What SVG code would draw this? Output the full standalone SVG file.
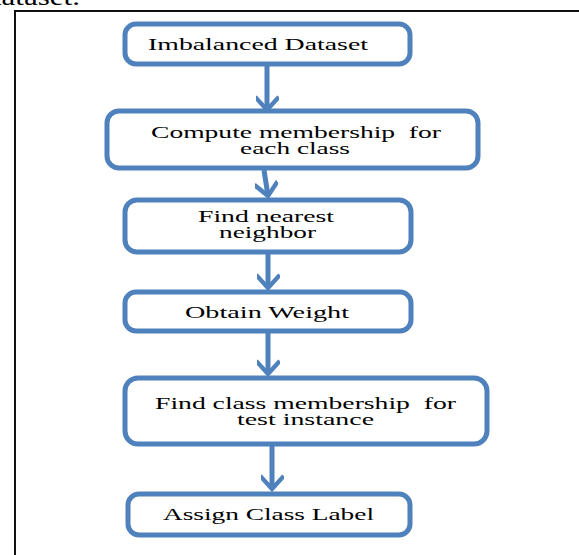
<svg xmlns="http://www.w3.org/2000/svg" width="579" height="555" viewBox="0 0 579 555">
  <style>
    .box { fill: #ffffff; stroke: #4F81BD; stroke-width: 5; }
    .lbl { font-family: "Liberation Serif", "Times New Roman", serif; font-size: 16px; fill: #000000; }
    .link { fill: none; stroke: #4F81BD; stroke-width: 5; }
    .frame { fill: none; stroke: #111111; stroke-width: 2; }
  </style>
  <defs>
    <marker id="chev" viewBox="0 0 12 12" refX="9" refY="6" markerWidth="4.6" markerHeight="4.6" orient="auto" markerUnits="strokeWidth">
      <path d="M3,0.6 L9,6 L3,11.4" fill="none" stroke="#4F81BD" stroke-width="2.3" stroke-linecap="square"/>
    </marker>
  </defs>

  <rect width="579" height="555" fill="#ffffff"/>

  <!-- caption fragment above the frame -->
  <text x="-14" y="5" font-family="Liberation Serif, serif" font-size="24" fill="#000" textLength="94" lengthAdjust="spacingAndGlyphs">dataset.</text>

  <!-- frame -->
  <path class="frame" d="M15,555 V11 H579"/>

  <!-- connectors -->
  <g id="connectors">
    <path class="link" d="M267,66 V110" marker-end="url(#chev)"/>
    <path class="link" d="M264,170 L268,196" marker-end="url(#chev)"/>
    <path class="link" d="M268,254 V288" marker-end="url(#chev)"/>
    <path class="link" d="M268,333 V374" marker-end="url(#chev)"/>
    <path class="link" d="M272,446 V489" marker-end="url(#chev)"/>
  </g>

  <g id="n1">
    <rect class="box" x="125" y="24" width="285" height="40" rx="11"/>
    <text class="lbl" x="148" y="50" textLength="220" lengthAdjust="spacingAndGlyphs">Imbalanced Dataset</text>
  </g>

  <g id="n2">
    <rect class="box" x="107" y="111" width="371" height="57" rx="12"/>
    <text class="lbl" x="151" y="138" textLength="290" lengthAdjust="spacingAndGlyphs" xml:space="preserve">Compute membership  for</text>
    <text class="lbl" x="240" y="154" textLength="110" lengthAdjust="spacingAndGlyphs">each class</text>
  </g>

  <g id="n3">
    <rect class="box" x="125" y="200" width="286" height="52" rx="12"/>
    <text class="lbl" x="198" y="222" textLength="136" lengthAdjust="spacingAndGlyphs">Find nearest</text>
    <text class="lbl" x="219" y="238" textLength="97" lengthAdjust="spacingAndGlyphs">neighbor</text>
  </g>

  <g id="n4">
    <rect class="box" x="125" y="292" width="286" height="39" rx="11"/>
    <text class="lbl" x="185" y="318" textLength="164" lengthAdjust="spacingAndGlyphs">Obtain Weight</text>
  </g>

  <g id="n5">
    <rect class="box" x="125" y="378" width="362" height="66" rx="13"/>
    <text class="lbl" x="155" y="409" textLength="301" lengthAdjust="spacingAndGlyphs" xml:space="preserve">Find class membership  for</text>
    <text class="lbl" x="237" y="425" textLength="137" lengthAdjust="spacingAndGlyphs">test instance</text>
  </g>

  <g id="n6">
    <rect class="box" x="128" y="494" width="282" height="41" rx="11"/>
    <text class="lbl" x="163" y="520" textLength="211" lengthAdjust="spacingAndGlyphs">Assign Class Label</text>
  </g>
</svg>
